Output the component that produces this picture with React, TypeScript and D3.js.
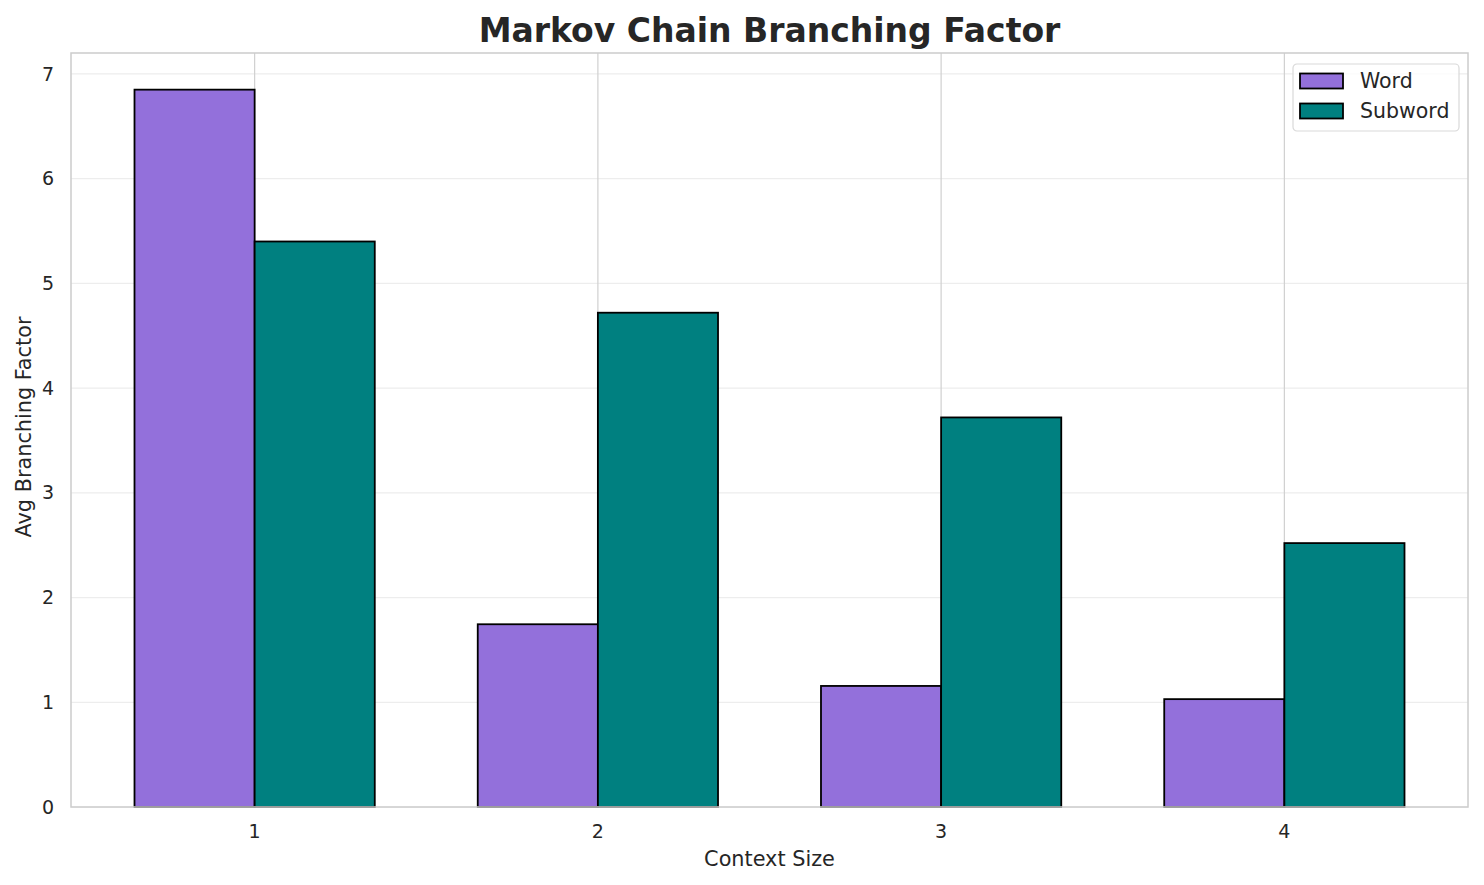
import { useEffect, useRef } from 'react';
import * as d3 from 'd3';

const contextSizes = [1, 2, 3, 4];
const wordValues = [6.85, 1.745, 1.156, 1.03];
const subwordValues = [5.4, 4.72, 3.72, 2.52];
const yTicks = [0, 1, 2, 3, 4, 5, 6, 7];
const seriesNames = ['Word', 'Subword'];
const seriesColors = ['#9370db', '#008080'];

const App = (): JSX.Element => {
  const svgRef = useRef<SVGSVGElement>(null);

  useEffect(() => {
    if (svgRef.current) {
      svgRef.current.innerHTML = '';
    }
    const width = 1484;
    const height = 885;
    const marginLeft = 71;
    const marginRight = 16;
    const marginTop = 53;
    const marginBottom = 78;
    const barWidth = 0.35;
    const font = 'DejaVu Sans, sans-serif';
    const textColor = '#262626';

    const x = d3.scaleLinear([0.465, 4.535], [marginLeft, width - marginRight]);
    const y = d3.scaleLinear([0, 7.2], [height - marginBottom, marginTop]);
    const unit = x(1) - x(0);

    const svg = d3
      .select(svgRef.current)
      .attr('width', width)
      .attr('height', height)
      .attr('viewBox', [0, 0, width, height])
      .style('font-family', font);

    svg.append('rect').attr('width', width).attr('height', height).attr('fill', '#fff');

    // Horizontal grid lines (faint)
    svg
      .append('g')
      .selectAll('line')
      .data(yTicks)
      .join('line')
      .attr('x1', marginLeft)
      .attr('x2', width - marginRight)
      .attr('y1', (d) => y(d))
      .attr('y2', (d) => y(d))
      .attr('stroke', '#ededed')
      .attr('stroke-width', 1.2);

    // Vertical grid lines
    svg
      .append('g')
      .selectAll('line')
      .data(contextSizes)
      .join('line')
      .attr('x1', (d) => x(d))
      .attr('x2', (d) => x(d))
      .attr('y1', marginTop)
      .attr('y2', height - marginBottom)
      .attr('stroke', '#d0d0d0')
      .attr('stroke-width', 1.2);

    const series = [wordValues, subwordValues];
    series.forEach((values, si) => {
      svg
        .append('g')
        .selectAll('rect')
        .data(values)
        .join('rect')
        .attr('x', (_, i) => x(contextSizes[i] - barWidth + si * barWidth))
        .attr('y', (d) => y(d))
        .attr('width', barWidth * unit)
        .attr('height', (d) => y(0) - y(d))
        .attr('fill', seriesColors[si])
        .attr('stroke', '#000')
        .attr('stroke-width', 1.8);
    });

    // Axes frame
    svg
      .append('rect')
      .attr('x', marginLeft)
      .attr('y', marginTop)
      .attr('width', width - marginLeft - marginRight)
      .attr('height', height - marginTop - marginBottom)
      .attr('fill', 'none')
      .attr('stroke', '#cccccc')
      .attr('stroke-width', 1.5);

    // Tick labels
    svg
      .append('g')
      .selectAll('text')
      .data(yTicks)
      .join('text')
      .attr('x', marginLeft - 17)
      .attr('y', (d) => y(d))
      .attr('dy', '0.35em')
      .attr('text-anchor', 'end')
      .attr('font-size', 19)
      .attr('fill', textColor)
      .text((d) => d);

    svg
      .append('g')
      .selectAll('text')
      .data(contextSizes)
      .join('text')
      .attr('x', (d) => x(d))
      .attr('y', height - marginBottom + 31)
      .attr('text-anchor', 'middle')
      .attr('font-size', 19)
      .attr('fill', textColor)
      .text((d) => d);

    // Axis labels and title
    svg
      .append('text')
      .attr('x', (marginLeft + width - marginRight) / 2)
      .attr('y', 866)
      .attr('text-anchor', 'middle')
      .attr('font-size', 20.8)
      .attr('fill', textColor)
      .text('Context Size');

    svg
      .append('text')
      .attr('transform', `translate(31,427) rotate(-90)`)
      .attr('text-anchor', 'middle')
      .attr('font-size', 20.8)
      .attr('fill', textColor)
      .text('Avg Branching Factor');

    svg
      .append('text')
      .attr('x', (marginLeft + width - marginRight) / 2)
      .attr('y', 42)
      .attr('text-anchor', 'middle')
      .attr('font-size', 33)
      .attr('font-weight', 'bold')
      .attr('fill', textColor)
      .text('Markov Chain Branching Factor');

    // Legend
    const legend = svg.append('g').attr('transform', 'translate(1293,64)');
    legend
      .append('rect')
      .attr('width', 166)
      .attr('height', 67)
      .attr('rx', 4)
      .attr('fill', '#fff')
      .attr('fill-opacity', 0.8)
      .attr('stroke', '#d9d9d9')
      .attr('stroke-width', 1.2);
    seriesNames.forEach((name, i) => {
      legend
        .append('rect')
        .attr('x', 7)
        .attr('y', 9.5 + i * 30)
        .attr('width', 43)
        .attr('height', 15)
        .attr('fill', seriesColors[i])
        .attr('stroke', '#000')
        .attr('stroke-width', 1.8);
      legend
        .append('text')
        .attr('x', 67)
        .attr('y', 17 + i * 30)
        .attr('dy', '0.35em')
        .attr('font-size', 20.5)
        .attr('fill', textColor)
        .text(name);
    });
  }, []);

  return (
    <div>
      <svg ref={svgRef} style={{ display: 'block', margin: '-8px' }} />
    </div>
  );
};

export default App;
